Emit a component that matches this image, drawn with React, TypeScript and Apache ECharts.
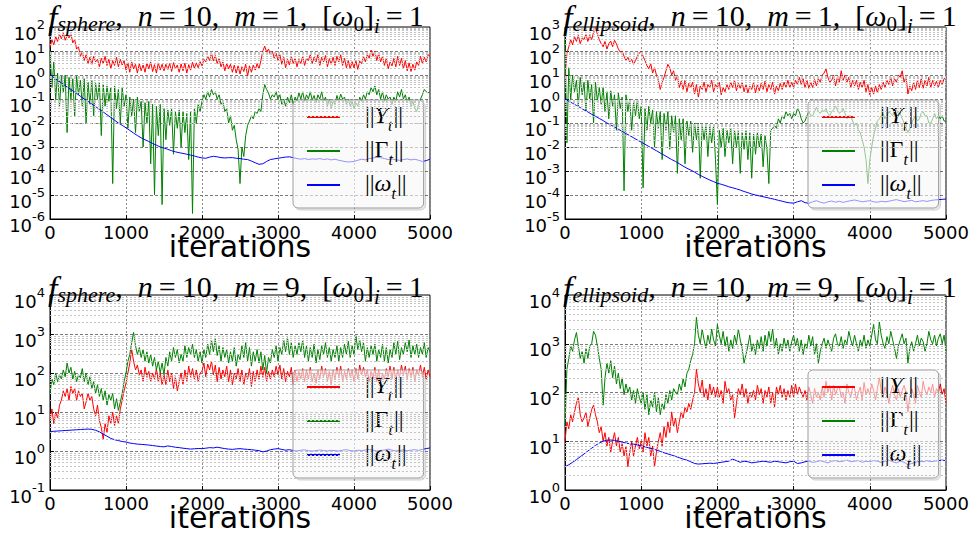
import React, { useEffect, useRef } from 'react';
import * as echarts from 'echarts';

// iteration grid for the noisy ||Y_t|| and ||Gamma_t|| traces
const itersFine = [
  0, 25, 50, 75, 100, 125, 150, 175, 200, 225, 250, 275, 300, 325, 350, 375, 400, 425, 450, 475,
  500, 525, 550, 575, 600, 625, 650, 675, 700, 725, 750, 775, 800, 825, 850, 875, 900, 925, 950, 975,
  1000, 1025, 1050, 1075, 1100, 1125, 1150, 1175, 1200, 1225, 1250, 1275, 1300, 1325, 1350, 1375, 1400, 1425, 1450, 1475,
  1500, 1525, 1550, 1575, 1600, 1625, 1650, 1675, 1700, 1725, 1750, 1775, 1800, 1825, 1850, 1875, 1900, 1925, 1950, 1975,
  2000, 2025, 2050, 2075, 2100, 2125, 2150, 2175, 2200, 2225, 2250, 2275, 2300, 2325, 2350, 2375, 2400, 2425, 2450, 2475,
  2500, 2525, 2550, 2575, 2600, 2625, 2650, 2675, 2700, 2725, 2750, 2775, 2800, 2825, 2850, 2875, 2900, 2925, 2950, 2975,
  3000, 3025, 3050, 3075, 3100, 3125, 3150, 3175, 3200, 3225, 3250, 3275, 3300, 3325, 3350, 3375, 3400, 3425, 3450, 3475,
  3500, 3525, 3550, 3575, 3600, 3625, 3650, 3675, 3700, 3725, 3750, 3775, 3800, 3825, 3850, 3875, 3900, 3925, 3950, 3975,
  4000, 4025, 4050, 4075, 4100, 4125, 4150, 4175, 4200, 4225, 4250, 4275, 4300, 4325, 4350, 4375, 4400, 4425, 4450, 4475,
  4500, 4525, 4550, 4575, 4600, 4625, 4650, 4675, 4700, 4725, 4750, 4775, 4800, 4825, 4850, 4875, 4900, 4925, 4950, 4975,
  5000,
];

// iteration grid for the smooth ||omega_t|| traces
const itersCoarse = [
  0, 50, 100, 150, 200, 250, 300, 350, 400, 450,
  500, 550, 600, 650, 700, 750, 800, 850, 900, 950,
  1000, 1050, 1100, 1150, 1200, 1250, 1300, 1350, 1400, 1450,
  1500, 1550, 1600, 1650, 1700, 1750, 1800, 1850, 1900, 1950,
  2000, 2050, 2100, 2150, 2200, 2250, 2300, 2350, 2400, 2450,
  2500, 2550, 2600, 2650, 2700, 2750, 2800, 2850, 2900, 2950,
  3000, 3050, 3100, 3150, 3200, 3250, 3300, 3350, 3400, 3450,
  3500, 3550, 3600, 3650, 3700, 3750, 3800, 3850, 3900, 3950,
  4000, 4050, 4100, 4150, 4200, 4250, 4300, 4350, 4400, 4450,
  4500, 4550, 4600, 4650, 4700, 4750, 4800, 4850, 4900, 4950,
  5000,
];

// ---- f_sphere, m = 1 ----
const sphereM1Y = [
  14, 30, 18, 40, 25, 50, 32, 55, 28, 45, 35, 52, 22, 30, 12, 15, 6, 9, 4, 7,
  3, 5.5, 2.8, 6, 3.5, 4.5, 2.2, 5, 3, 6, 2.5, 4.5, 1.8, 4, 2.5, 5.5, 2.2, 4.5, 2.6, 4,
  1.6, 3.2, 1.3, 3.5, 1.8, 2.8, 1.2, 3, 1.5, 2.6, 1.3, 3.2, 1.8, 3.5, 1.4, 2.7, 1.2, 3.2, 1.6, 2.8,
  1.5, 2.8, 1.7, 3, 1.4, 3.3, 1.8, 2.6, 1.3, 2.9, 1.5, 3.1, 1.2, 2.7, 1.6, 3.4, 1.9, 3.2, 2, 3.6,
  2.4, 4.5, 3.5, 6, 4, 8, 3.8, 6.5, 3, 5, 2.2, 3.5, 1.5, 3, 1.8, 2.8, 1.3, 2.6, 1.2, 2.4,
  1.1, 2.2, 1.4, 2.8, 0.9, 2.4, 1.3, 2.6, 1.6, 3, 1.8, 4, 10, 16, 9, 12, 7, 10, 5, 8,
  4, 7, 2.8, 5.5, 2, 4.5, 2.6, 6, 3, 5, 2.2, 4.5, 3, 6, 2.5, 5, 4, 7, 3, 5.5,
  3.5, 7, 2.5, 5.5, 3.5, 6.5, 2.2, 4.8, 2.8, 5.5, 2.5, 6, 3.5, 7, 2.5, 5, 2, 4, 1.8, 3.6,
  2, 4, 1.7, 3.8, 3, 6, 3.5, 7, 5, 11, 6, 10, 4, 8, 3.5, 6, 2.5, 5, 1.8, 3.5,
  2.4, 5, 2.2, 6, 2.5, 5, 1.8, 4, 1.5, 3.2, 1.4, 2.8, 1.6, 3.5, 2.5, 6, 3, 5.5, 3.5, 7,
  6,
];
const sphereM1Gamma = [
  10, 0.3, 3.5, 0.1, 1.2, 0.05, 0.9, 0.2, 1, 0.004, 0.8, 0.1, 0.7, 0.02, 0.9, 0.15, 0.6, 0.05, 0.7, 0.01,
  0.5, 0.06, 0.6, 0.02, 0.45, 0.1, 0.5, 0.003, 0.4, 0.05, 0.35, 0.08, 0.3, 0.00003, 0.35, 0.04, 0.25, 0.01, 0.3, 0.05,
  0.15, 0.006, 0.12, 0.02, 0.1, 0.004, 0.12, 0.03, 0.08, 0.001, 0.07, 0.01, 0.08, 0.0002, 0.06, 0.00001, 0.05, 0.003, 0.06, 0.000004,
  0.04, 0.002, 0.035, 0.008, 0.04, 0.0005, 0.03, 0.006, 0.035, 0.001, 0.03, 0.004, 0.025, 0.0003, 0.03, 0.0000017, 0.04, 0.01, 0.06, 0.03,
  0.08, 0.15, 0.1, 0.2, 0.12, 0.25, 0.15, 0.2, 0.1, 0.15, 0.06, 0.08, 0.03, 0.04, 0.01, 0.02, 0.005, 0.008, 0.002, 0.0008,
  0.00003, 0.001, 0.0004, 0.003, 0.008, 0.012, 0.02, 0.015, 0.03, 0.025, 0.04, 0.03, 0.15, 0.4, 0.25, 0.18, 0.1, 0.15, 0.12, 0.2,
  0.1, 0.15, 0.06, 0.1, 0.05, 0.12, 0.07, 0.15, 0.06, 0.12, 0.08, 0.18, 0.1, 0.2, 0.08, 0.15, 0.1, 0.2, 0.09, 0.14,
  0.07, 0.15, 0.1, 0.2, 0.08, 0.12, 0.05, 0.1, 0.04, 0.08, 0.06, 0.14, 0.08, 0.16, 0.1, 0.12, 0.06, 0.1, 0.05, 0.08,
  0.04, 0.07, 0.05, 0.12, 0.08, 0.15, 0.1, 0.2, 0.15, 0.3, 0.2, 0.35, 0.15, 0.25, 0.1, 0.2, 0.08, 0.15, 0.1, 0.12,
  0.06, 0.12, 0.08, 0.2, 0.12, 0.25, 0.1, 0.15, 0.07, 0.12, 0.05, 0.08, 0.04, 0.03, 0.06, 0.1, 0.15, 0.25, 0.2, 0.18,
  0.2,
];
const sphereM1Omega = [
  1, 0.78, 0.6, 0.47, 0.36, 0.28, 0.22, 0.17, 0.13, 0.1,
  0.08, 0.062, 0.048, 0.037, 0.029, 0.022, 0.017, 0.013, 0.01, 0.008,
  0.0063, 0.0049, 0.0038, 0.003, 0.0024, 0.002, 0.0017, 0.0014, 0.0012, 0.001,
  0.0009, 0.0008, 0.0007, 0.00063, 0.00058, 0.00054, 0.0005, 0.00046, 0.00042, 0.00038,
  0.00035, 0.00034, 0.00038, 0.00041, 0.00039, 0.00036, 0.00035, 0.00036, 0.00036, 0.00034,
  0.00033, 0.00031, 0.0003, 0.00026, 0.00022, 0.00019, 0.0002, 0.00025, 0.0003, 0.00032,
  0.00034, 0.00036, 0.00038, 0.00039, 0.00036, 0.00033, 0.00031, 0.00033, 0.0003, 0.00032,
  0.00031, 0.00033, 0.0003, 0.00032, 0.00029, 0.00031, 0.00028, 0.00026, 0.00024, 0.00024,
  0.00025, 0.00028, 0.00031, 0.00029, 0.00033, 0.00035, 0.00037, 0.00036, 0.00033, 0.0003,
  0.00032, 0.00029, 0.00028, 0.0003, 0.00032, 0.00029, 0.00031, 0.00028, 0.00025, 0.00027,
  0.00031,
];

// ---- f_ellipsoid, m = 1 ----
const ellipsoidM1Y = [
  8, 80, 150, 300, 180, 400, 250, 450, 200, 350, 300, 500, 250, 450, 300, 600, 1000, 500, 300, 200,
  150, 250, 120, 200, 260, 150, 280, 200, 120, 90, 100, 60, 40, 55, 35, 45, 28, 40, 60, 80,
  100, 60, 40, 25, 18, 30, 12, 20, 10, 6, 2.5, 5, 8, 15, 28, 20, 10, 15, 6, 9,
  3, 5.5, 2.5, 6, 2, 4.5, 3, 5, 1.6, 4, 1.2, 3.5, 2.5, 5, 2, 4, 3, 6, 2, 4,
  3, 5, 1.5, 3, 2, 4, 2.5, 5, 3, 6, 2.2, 4.5, 2.8, 5, 2, 4, 1.8, 3.5, 2.5, 5,
  1.8, 4, 2.2, 4.5, 2.5, 5.5, 2, 4, 2.5, 5, 1.6, 3.5, 2.2, 4.5, 2.5, 5, 3, 6, 3, 5,
  3, 6, 4, 8, 4, 7, 3, 6, 2.8, 5, 3, 6.5, 3.5, 7, 5, 10, 12, 18, 8, 5,
  6, 10, 3.5, 8, 5, 15, 6, 10, 5, 8, 3, 6, 3.5, 6, 2.5, 5, 3, 6, 2, 4,
  1.5, 3, 1.6, 3.5, 1.8, 4, 2.5, 5, 3, 6, 4, 8, 3.5, 7, 5, 10, 8, 15, 5, 9,
  1.6, 3.5, 2.2, 5, 2.5, 6, 3, 7, 2.8, 6, 3.5, 8, 3, 6, 3.5, 5.5, 3, 6, 4, 7,
  8,
];
const ellipsoidM1Gamma = [
  300, 0.015, 20, 1, 10, 2, 6, 0.5, 8, 1.5, 5, 0.3, 6, 1, 4, 0.1, 5, 0.8, 3, 0.6,
  3, 0.3, 2, 0.15, 2.2, 0.5, 1.5, 0.05, 1.8, 0.4, 1.2, 0.00015, 1.5, 0.3, 1, 0.05, 0.8, 0.2, 0.9, 0.15,
  0.5, 0.0002, 0.4, 0.05, 0.5, 0.1, 0.35, 0.01, 0.3, 0.06, 0.3, 0.003, 0.25, 0.05, 0.3, 0.008, 0.2, 0.04, 0.2, 0.0008,
  0.15, 0.02, 0.15, 0.002, 0.12, 0.03, 0.12, 0.006, 0.1, 0.02, 0.1, 0.0005, 0.08, 0.02, 0.09, 0.004, 0.07, 0.015, 0.08, 0.003,
  0.00004, 0.05, 0.01, 0.06, 0.004, 0.05, 0.015, 0.06, 0.002, 0.05, 0.01, 0.045, 0.0008, 0.04, 0.008, 0.05, 0.003, 0.04, 0.0005, 0.035,
  0.005, 0.04, 0.01, 0.035, 0.0015, 0.03, 0.008, 0.0003, 0.05, 0.06, 0.08, 0.06, 0.15, 0.1, 0.2, 0.15, 0.3, 0.2, 0.25, 0.15,
  0.25, 0.2, 0.4, 0.3, 0.15, 0.1, 0.12, 0.2, 0.3, 0.2, 0.2, 0.3, 0.45, 0.3, 0.25, 0.35, 0.3, 0.4, 0.25, 0.2,
  0.3, 0.35, 0.5, 0.35, 0.25, 0.3, 0.4, 0.25, 0.15, 0.2, 0.2, 0.12, 0.08, 0.1, 0.05, 0.04, 0.02, 0.01, 0.003, 0.0003,
  0.003, 0.01, 0.03, 0.06, 0.12, 0.15, 0.2, 0.25, 0.15, 0.2, 0.3, 0.25, 0.2, 0.3, 0.35, 0.25, 0.25, 0.15, 0.1, 0.06,
  0.04, 0.06, 0.1, 0.15, 0.2, 0.12, 0.15, 0.25, 0.3, 0.2, 0.2, 0.1, 0.1, 0.15, 0.25, 0.15, 0.2, 0.15, 0.2, 0.12,
  0.12,
];
const ellipsoidM1Omega = [
  1, 0.81, 0.66, 0.54, 0.44, 0.35, 0.29, 0.23, 0.19, 0.155,
  0.126, 0.1, 0.083, 0.068, 0.055, 0.045, 0.036, 0.03, 0.024, 0.0195,
  0.016, 0.013, 0.0105, 0.0085, 0.007, 0.0056, 0.0046, 0.0037, 0.003, 0.0025,
  0.002, 0.0016, 0.0013, 0.0011, 0.0009, 0.00072, 0.0006, 0.0005, 0.00042, 0.00036,
  0.00031, 0.00028, 0.00025, 0.00022, 0.0002, 0.00018, 0.00016, 0.00014, 0.000125, 0.00011,
  0.0001, 0.000092, 0.000085, 0.000078, 0.000072, 0.000066, 0.00006, 0.000055, 0.00005, 0.000047,
  0.000046, 0.000052, 0.000058, 0.000048, 0.000045, 0.000052, 0.000058, 0.00005, 0.000046, 0.000052,
  0.000056, 0.00005, 0.000055, 0.000049, 0.000054, 0.000058, 0.000062, 0.000057, 0.000052, 0.000055,
  0.000058, 0.000052, 0.00005, 0.000055, 0.000052, 0.000055, 0.00006, 0.000064, 0.000058, 0.000053,
  0.000056, 0.00006, 0.000052, 0.000055, 0.000058, 0.000054, 0.000059, 0.000062, 0.000064, 0.000066,
  0.000068,
];

// ---- f_sphere, m = 9 ----
const sphereM9Y = [
  6, 12, 5, 10, 7, 15, 20, 35, 25, 40, 20, 45, 30, 40, 20, 35, 25, 30, 12, 18,
  30, 20, 25, 12, 8, 15, 6, 4, 2, 5, 3, 8, 5, 10, 4.5, 8, 5, 12, 20, 35,
  55, 100, 180, 400, 200, 120, 160, 90, 120, 60, 140, 80, 110, 60, 100, 70, 130, 60, 100, 50,
  90, 50, 120, 60, 100, 40, 80, 35, 60, 100, 50, 120, 60, 150, 80, 130, 70, 120, 60, 100,
  110, 180, 80, 170, 120, 200, 90, 160, 60, 140, 70, 120, 80, 150, 60, 120, 50, 100, 70, 130,
  60, 120, 50, 100, 70, 130, 45, 110, 60, 120, 70, 150, 80, 140, 60, 110, 70, 120, 80, 150,
  90, 160, 70, 130, 60, 110, 80, 140, 50, 120, 60, 110, 70, 130, 60, 120, 70, 140, 60, 100,
  55, 120, 70, 150, 80, 130, 60, 110, 50, 120, 70, 140, 80, 150, 60, 110, 70, 130, 80, 120,
  60, 130, 70, 160, 90, 140, 80, 120, 60, 110, 70, 140, 60, 120, 55, 100, 70, 130, 80, 150,
  70, 140, 60, 120, 80, 160, 90, 150, 70, 130, 80, 140, 60, 120, 90, 160, 80, 140, 70, 120,
  80,
];
const sphereM9Gamma = [
  30, 70, 50, 100, 60, 90, 70, 120, 80, 180, 100, 140, 70, 110, 60, 90, 75, 130, 60, 100,
  50, 80, 40, 60, 30, 50, 25, 40, 20, 35, 15, 28, 20, 30, 12, 22, 11, 18, 30, 60,
  100, 200, 300, 600, 1100, 500, 300, 450, 250, 400, 200, 350, 180, 300, 150, 250, 120, 200, 100, 180,
  90, 250, 150, 350, 200, 450, 250, 400, 180, 300, 200, 500, 250, 450, 300, 550, 250, 400, 200, 350,
  180, 400, 250, 550, 300, 700, 350, 750, 280, 500, 200, 450, 250, 400, 180, 350, 200, 450, 150, 300,
  220, 500, 250, 600, 200, 450, 150, 350, 200, 400, 180, 350, 120, 280, 100, 250, 180, 400, 250, 500,
  200, 450, 300, 700, 350, 800, 300, 600, 250, 500, 300, 600, 350, 700, 250, 500, 200, 450, 250, 550,
  180, 400, 220, 500, 300, 600, 250, 450, 200, 400, 250, 500, 200, 450, 250, 550, 300, 650, 250, 500,
  300, 900, 400, 700, 350, 600, 200, 450, 250, 500, 300, 550, 200, 400, 250, 550, 200, 450, 180, 400,
  250, 600, 300, 650, 220, 450, 300, 600, 350, 700, 250, 500, 300, 550, 250, 450, 300, 600, 250, 450,
  350,
];
const sphereM9Omega = [
  3.16, 3.2, 3.25, 3.3, 3.35, 3.4, 3.45, 3.5, 3.55, 3.6,
  3.65, 3.6, 3.4, 3.1, 2.7, 2.4, 2.1, 1.95, 1.85, 1.75,
  1.7, 1.6, 1.55, 1.5, 1.48, 1.45, 1.42, 1.38, 1.34, 1.3,
  1.28, 1.35, 1.3, 1.25, 1.22, 1.18, 1.15, 1.12, 1.14, 1.16,
  1.15, 1.18, 1.22, 1.2, 1.25, 1.2, 1.15, 1.12, 1.1, 1.13,
  1.15, 1.12, 1.1, 1.08, 1.05, 1.02, 0.95, 1.0, 1.08, 1.12,
  1.15, 1.1, 1.05, 1.08, 1.03, 1.0, 1.05, 1.07, 1.02, 1.0,
  1.02, 1.06, 1.03, 1.0, 1.04, 1.02, 1.0, 1.05, 1.08, 1.03,
  1.0, 1.05, 1.02, 1.06, 1.1, 1.04, 1.0, 1.03, 1.06, 1.12,
  1.05, 1.0, 1.03, 1.06, 1.02, 1.05, 1.08, 1.04, 1.1, 1.15,
  1.2,
];

// ---- f_ellipsoid, m = 9 ----
const ellipsoidM9Y = [
  10, 25, 18, 35, 25, 40, 60, 80, 35, 25, 30, 40, 20, 30, 45, 55, 35, 25, 15, 20,
  10, 15, 8, 12, 6, 10, 15, 8, 12, 6, 9, 5, 8, 3, 6, 10, 5, 8, 12, 7,
  10, 6, 15, 8, 12, 5, 8, 3, 6, 10, 15, 8, 20, 12, 25, 15, 40, 20, 30, 15,
  25, 40, 30, 50, 40, 60, 45, 70, 100, 300, 150, 100, 180, 80, 120, 70, 150, 90, 130, 80,
  130, 80, 110, 60, 170, 100, 120, 70, 90, 30, 60, 120, 90, 150, 80, 120, 60, 100, 80, 110,
  70, 140, 90, 120, 60, 110, 80, 130, 60, 100, 50, 130, 90, 140, 80, 120, 70, 110, 80, 140,
  80, 150, 90, 130, 100, 80, 110, 70, 130, 90, 60, 120, 80, 100, 70, 130, 80, 170, 100, 140,
  70, 140, 90, 120, 130, 80, 100, 60, 150, 100, 80, 130, 120, 70, 100, 130, 70, 160, 90, 120,
  90, 150, 110, 70, 120, 200, 110, 80, 130, 100, 60, 100, 140, 90, 70, 120, 80, 110, 140, 100,
  40, 80, 120, 90, 60, 140, 100, 80, 170, 110, 90, 130, 100, 150, 80, 120, 100, 150, 90, 120,
  60,
];
const ellipsoidM9Gamma = [
  20, 300, 500, 900, 700, 1200, 1700, 900, 500, 700, 400, 800, 500, 900, 1000, 1800, 1500, 900, 500, 300,
  55, 200, 400, 250, 450, 200, 350, 150, 250, 120, 200, 90, 150, 100, 130, 70, 110, 60, 120, 80,
  60, 100, 45, 90, 35, 70, 50, 100, 40, 80, 35, 60, 45, 90, 60, 110, 70, 120, 100, 90,
  150, 110, 190, 130, 250, 300, 450, 600, 1000, 3500, 1500, 1000, 2000, 1200, 800, 1500, 1000, 2000, 1200, 900,
  2500, 1500, 1000, 1800, 900, 1400, 700, 1200, 800, 1500, 1000, 2000, 1200, 800, 400, 600, 900, 1500, 700, 1000,
  600, 1200, 800, 1400, 700, 1500, 900, 1800, 1100, 2000, 800, 1300, 600, 1000, 700, 1300, 800, 1200, 700, 1100,
  1500, 900, 1300, 700, 1200, 600, 1000, 800, 1500, 900, 1400, 600, 1000, 400, 700, 1000, 1300, 800, 1200, 900,
  700, 1300, 1600, 1000, 900, 1400, 800, 1200, 1000, 1800, 1200, 900, 1500, 1000, 700, 1200, 900, 1500, 800, 1200,
  900, 1500, 2500, 1200, 1000, 2800, 1500, 1000, 800, 1400, 1000, 1800, 1200, 800, 500, 900, 1200, 1600, 1000, 1300,
  400, 800, 1100, 700, 1000, 1500, 900, 1300, 1100, 700, 1000, 1800, 1200, 1000, 1500, 900, 1300, 1600, 1000, 1500,
  700,
];
const ellipsoidM9Omega = [
  3, 3.3, 3.7, 4.2, 4.8, 5.5, 6.3, 7.2, 8.2, 9.2,
  10, 10.5, 10.6, 10.4, 10, 9.6, 9.2, 8.9, 8.7, 8.4,
  8.0, 7.7, 7.3, 7.0, 6.6, 6.2, 5.8, 5.5, 5.2, 4.9,
  4.6, 4.3, 4.1, 3.8, 3.5, 3.4, 3.45, 3.5, 3.55, 3.5,
  3.6, 3.7, 3.8, 3.9, 4.3, 4.0, 3.7, 3.9, 3.8, 3.6,
  3.7, 3.8, 3.9, 3.8, 3.7, 3.9, 3.8, 3.7, 3.6, 3.8,
  3.9, 3.5, 3.6, 3.8, 3.9, 3.7, 3.8, 4.0, 3.8, 3.6,
  3.9, 4.0, 3.8, 3.9, 4.1, 3.8, 3.9, 4.0, 3.7, 3.9,
  3.8, 4.0, 3.9, 3.7, 3.9, 4.1, 3.8, 3.6, 3.9, 3.7,
  3.3, 3.5, 3.7, 3.9, 3.8, 4.0, 3.8, 3.9, 4.0, 4.1,
  4.0,
];

const xTicks = { min: 0, max: 5000, interval: 1000 };

const SERIF = '"Liberation Serif", "DejaVu Serif", serif';
const SANS = '"DejaVu Sans", "Bitstream Vera Sans", sans-serif';

const panels = [
  {
    id: 'a', fn: 'sphere', m: '1', expMin: -6, expMax: 2,
    grid: { left: 50, top: 27, width: 380, height: 192 },
    titlePos: { left: 48, top: 0 }, legendPos: { left: 293, top: 100 },
    Y: sphereM1Y, G: sphereM1Gamma, W: sphereM1Omega,
  },
  {
    id: 'b', fn: 'ellipsoid', m: '1', expMin: -5, expMax: 3,
    grid: { left: 565, top: 27, width: 381, height: 192 },
    titlePos: { left: 563, top: 0 }, legendPos: { left: 808, top: 100 },
    Y: ellipsoidM1Y, G: ellipsoidM1Gamma, W: ellipsoidM1Omega,
  },
  {
    id: 'c', fn: 'sphere', m: '9', expMin: -1, expMax: 4,
    grid: { left: 50, top: 295, width: 380, height: 195 },
    titlePos: { left: 48, top: 271 }, legendPos: { left: 293, top: 370 },
    Y: sphereM9Y, G: sphereM9Gamma, W: sphereM9Omega,
  },
  {
    id: 'd', fn: 'ellipsoid', m: '9', expMin: 0, expMax: 4,
    grid: { left: 565, top: 295, width: 381, height: 195 },
    titlePos: { left: 563, top: 271 }, legendPos: { left: 808, top: 370 },
    Y: ellipsoidM9Y, G: ellipsoidM9Gamma, W: ellipsoidM9Omega,
  },
];

const T = { fontFamily: SERIF, fontWeight: 'normal', color: '#000', verticalAlign: 'top' };
const titleRich = {
  f: { ...T, fontStyle: 'italic', fontSize: 34, lineHeight: 30 },
  sub: { ...T, fontStyle: 'italic', fontSize: 22, lineHeight: 22, padding: [12, 0, 0, 0] },
  r: { ...T, fontSize: 30, lineHeight: 30 },
  i: { ...T, fontStyle: 'italic', fontSize: 30, lineHeight: 30 },
  s0: { ...T, fontSize: 21, lineHeight: 21, padding: [13, 0, 0, 0] },
  si: { ...T, fontStyle: 'italic', fontSize: 21, lineHeight: 21, padding: [15, 0, 0, 0] },
};

const titleText = (fn: string, m: string) =>
  `{f|f}{sub|${fn}}{r|,  }{i|n}{r|\u2009=\u200910,  }{i|m}{r|\u2009=\u2009${m},  [}{i|ω}{s0|0}{r|]}{si|i}{r|\u2009=\u20091}`;

const legendRich = {
  b: { fontFamily: SERIF, fontSize: 24, lineHeight: 28, verticalAlign: 'top', color: '#000' },
  v: { fontFamily: SERIF, fontStyle: 'italic', fontSize: 24, lineHeight: 28, verticalAlign: 'top', color: '#000' },
  g: { fontFamily: SERIF, fontSize: 24, lineHeight: 28, verticalAlign: 'top', color: '#000' },
  s: { fontFamily: SERIF, fontStyle: 'italic', fontSize: 16, lineHeight: 16, padding: [14, 1, 0, 0], verticalAlign: 'top', color: '#000' },
};

const legendText: Record<string, string> = {
  Y: '{b|||}{v|Y}{s|t}{b|||}',
  G: '{b|||}{g|Γ}{s|t}{b|||}',
  W: '{b|||}{v|ω}{s|t}{b|||}',
};

const colors: Record<string, string> = { Y: '#ff0000', G: '#008000', W: '#0000ff' };

function buildOption() {
  const grid: any[] = [];
  const xAxis: any[] = [];
  const yAxis: any[] = [];
  const series: any[] = [];
  const title: any[] = [];
  const legend: any[] = [];

  panels.forEach((p, gi) => {
    grid.push({
      ...p.grid,
      show: true,
      borderColor: '#000',
      borderWidth: 1,
      backgroundColor: 'transparent',
      containLabel: false,
      outerBoundsMode: 'none',
    });
    xAxis.push({
      type: 'value',
      gridIndex: gi,
      min: xTicks.min,
      max: xTicks.max,
      interval: xTicks.interval,
      axisLine: { show: true, lineStyle: { color: '#000', width: 1 } },
      axisTick: { show: true, inside: true, length: 4, lineStyle: { color: '#000' } },
      axisLabel: {
        color: '#000', fontFamily: SANS, fontSize: 18, margin: 4,
        showMinLabel: true, showMaxLabel: true,
        formatter: (v: number) => String(v),
      },
      splitLine: { show: true, lineStyle: { color: '#8c8c8c', type: [2, 2], width: 1 } },
      name: 'iterations',
      nameLocation: 'middle',
      nameGap: 12,
      nameMoveOverlap: false,
      nameTextStyle: { fontFamily: SANS, fontSize: 30, color: '#000', verticalAlign: 'top' },
    });
    yAxis.push({
      type: 'log',
      logBase: 10,
      gridIndex: gi,
      min: Math.pow(10, p.expMin),
      max: Math.pow(10, p.expMax),
      splitNumber: 10,
      axisLine: { show: true, lineStyle: { color: '#000', width: 1 } },
      axisTick: { show: true, inside: true, length: 4, lineStyle: { color: '#000' } },
      axisLabel: {
        margin: 5,
        showMinLabel: true,
        showMaxLabel: true,
        formatter: (v: number) => `{b|10}{s|${Math.round(Math.log10(v))}}`,
        rich: {
          b: { fontFamily: SANS, fontSize: 18, lineHeight: 18, padding: [6, 0, 0, 0], verticalAlign: 'top', color: '#000' },
          s: { fontFamily: SANS, fontSize: 13, lineHeight: 13, verticalAlign: 'top', color: '#000' },
        },
      },
      splitLine: { show: true, lineStyle: { color: '#7a7a7a', type: [3, 2], width: 1 } },
    });

    const minor: any[] = [];
    for (let e = p.expMin; e < p.expMax; e++) {
      for (let k = 2; k <= 9; k++) minor.push({ yAxis: k * Math.pow(10, e) });
    }
    series.push({
      type: 'line',
      name: `grid-${p.id}`,
      xAxisIndex: gi,
      yAxisIndex: gi,
      data: [],
      silent: true,
      z: 1,
      markLine: {
        silent: true,
        symbol: 'none',
        animation: false,
        label: { show: false },
        lineStyle: { color: '#c4c4c4', type: [2, 2], width: 1 },
        emphasis: { disabled: true },
        data: minor,
      },
    });

    (['Y', 'G', 'W'] as const).forEach((k) => {
      const vals = (p as any)[k] as number[];
      const xs = k === 'W' ? itersCoarse : itersFine;
      series.push({
        type: 'line',
        name: `${k}-${p.id}`,
        xAxisIndex: gi,
        yAxisIndex: gi,
        data: xs.map((x, i) => [x, vals[i]]),
        showSymbol: false,
        symbol: 'none',
        lineStyle: { color: colors[k], width: 1 },
        itemStyle: { color: colors[k] },
        z: 2,
        emphasis: { disabled: true },
      });
    });

    title.push({
      text: titleText(p.fn, p.m),
      left: p.titlePos.left,
      top: p.titlePos.top,
      padding: 0,
      textStyle: { fontWeight: 'normal', rich: titleRich },
    });

    legend.push({
      data: ['Y', 'G', 'W'].map((k) => `${k}-${p.id}`),
      left: p.legendPos.left,
      top: p.legendPos.top,
      orient: 'vertical',
      icon: 'rect',
      itemWidth: 33,
      itemHeight: 2,
      itemGap: 4,
      padding: [3, 17, 7, 14],
      backgroundColor: 'rgba(255,255,255,0.55)',
      borderColor: '#9a9a9a',
      borderWidth: 1,
      borderRadius: 5,
      shadowColor: 'rgba(0,0,0,0.18)',
      shadowBlur: 0,
      shadowOffsetX: 2,
      shadowOffsetY: 2,
      selectedMode: false,
      formatter: (name: string) => legendText[name.charAt(0)],
      textStyle: { padding: [0, 0, 0, 20], rich: legendRich },
    });
  });

  return {
    animation: false,
    backgroundColor: '#ffffff',
    title,
    legend,
    grid,
    xAxis,
    yAxis,
    series,
  };
}

export default function App() {
  const ref = useRef<HTMLDivElement>(null);
  useEffect(() => {
    if (!ref.current) return;
    const chart = echarts.init(ref.current, null, { renderer: 'svg' });
    chart.setOption(buildOption() as any);
    return () => chart.dispose();
  }, []);
  return (
    <div
      ref={ref}
      style={{ position: 'absolute', left: 0, top: 0, width: 974, height: 537, background: '#fff' }}
    />
  );
}
